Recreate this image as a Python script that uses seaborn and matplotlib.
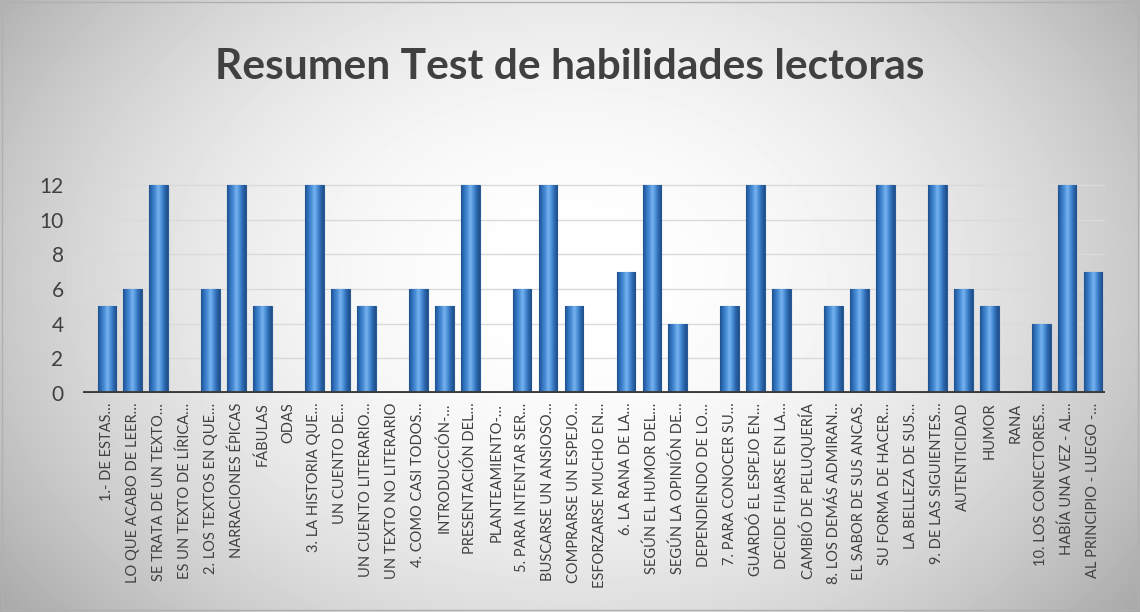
import numpy as np
import matplotlib
matplotlib.use("Agg")
import matplotlib.pyplot as plt
from matplotlib.colors import LinearSegmentedColormap
from matplotlib.patches import Rectangle
import seaborn as sns

# datos
etiquetas = [
    "1.- DE ESTAS…", "LO QUE ACABO DE LEER…", "SE TRATA DE UN TEXTO…", "ES UN TEXTO DE LÍRICA…",
    "2. LOS TEXTOS EN QUE…", "NARRACIONES ÉPICAS", "FÁBULAS", "ODAS",
    "3. LA HISTORIA QUE…", "UN CUENTO DE…", "UN CUENTO LITERARIO…", "UN TEXTO NO LITERARIO",
    "4. COMO CASI TODOS…", "INTRODUCCIÓN-…", "PRESENTACIÓN DEL…", "PLANTEAMIENTO-…",
    "5. PARA INTENTAR SER…", "BUSCARSE UN ANSIOSO…", "COMPRARSE UN ESPEJO…", "ESFORZARSE MUCHO EN…",
    "6. LA RANA DE LA…", "SEGÚN EL HUMOR DEL…", "SEGÚN LA OPINIÓN DE…", "DEPENDIENDO DE LO…",
    "7. PARA CONOCER SU…", "GUARDÓ EL ESPEJO EN…", "DECIDE FIJARSE EN LA…", "CAMBIÓ DE PELUQUERÍA",
    "8. LOS DEMÁS ADMIRAN…", "EL SABOR DE SUS ANCAS.", "SU FORMA DE HACER…", "LA BELLEZA DE SUS…",
    "9. DE LAS SIGUIENTES…", "AUTENTICIDAD", "HUMOR", "RANA",
    "10. LOS CONECTORES…", "HABÍA UNA VEZ - AL…", "AL PRINCIPIO - LUEGO -…",
]
valores = [
    5, 6, 12, 0,
    6, 12, 5, 0,
    12, 6, 5, 0,
    6, 5, 12, 0,
    6, 12, 5, 0,
    7, 12, 4, 0,
    5, 12, 6, 0,
    5, 6, 12, 0,
    12, 6, 5, 0,
    4, 12, 7,
]
y_ticks = [0, 2, 4, 6, 8, 10, 12]
titulo = "Resumen Test de habilidades lectoras"

sns.set_theme(style="white")
plt.rcParams["font.family"] = ["Lato", "DejaVu Sans"]
texto = "#404040"

fig = plt.figure(figsize=(11.4, 6.12), dpi=100)

# fondo con degradado radial
bg = fig.add_axes([0, 0, 1, 1], zorder=-10)
yy, xx = np.mgrid[0:612, 0:1140]
r = np.sqrt(((xx - 570) / 640.0) ** 2 + ((yy - 280) / 480.0) ** 2)
gris = 1.0 - 0.27 * np.clip(r, 0, 1.2) ** 2
bg.imshow(gris, cmap="gray", vmin=0, vmax=1, aspect="auto", extent=[0, 1, 0, 1])
bg.set_axis_off()
fig.patches.append(Rectangle((0.002, 0.003), 0.996, 0.994, transform=fig.transFigure,
                             fill=False, edgecolor="#b0b0b0", lw=1))

ax = fig.add_axes([83 / 1140, (612 - 393) / 612, 1022 / 1140, 216.7 / 612])
ax.patch.set_alpha(0)

sns.barplot(x=etiquetas, y=valores, color="#3b7dc6", width=0.72, ax=ax, zorder=3)

# sombreado cilindrico sobre cada barra
cmap = LinearSegmentedColormap.from_list(
    "col", ["#1e5290", "#3272bb", "#4a8fd8", "#78b4ee", "#4a8fd8", "#2c68ae", "#1f4f8a"])
grad = np.linspace(0, 1, 64).reshape(1, -1)
for p in ax.patches:
    h = p.get_height()
    if h <= 0:
        continue
    x0 = p.get_x()
    w = p.get_width()
    im = ax.imshow(grad, cmap=cmap, aspect="auto", extent=[x0, x0 + w, 0, h], zorder=4)
    im.set_clip_path(p)
    p.set_edgecolor("#2a5a96")
    p.set_linewidth(0.8)

ax.set_xlim(-0.92, 38.46)
ax.set_ylim(0, 12.5)
ax.set_aspect("auto")
ax.set_yticks(y_ticks)
ax.set_yticklabels([str(v) for v in y_ticks], fontsize=15, color=texto)
ax.tick_params(axis="y", length=0, pad=14)
ax.tick_params(axis="x", length=0, pad=7)
plt.setp(ax.get_xticklabels(), rotation=90, fontsize=10.5, color=texto, ha="center", va="top")
ax.set_xlabel("")
ax.set_ylabel("")

for v in y_ticks[1:]:
    ax.axhline(v, color="#dadada", lw=1.0, zorder=1)
ax.axhline(0, color="#3a3a3a", lw=3.5, zorder=5)
for s in ax.spines.values():
    s.set_visible(False)

fig.text(0.5, 0.89, titulo, ha="center", va="center", fontsize=30.6,
         fontweight="bold", color=texto)

fig.savefig("out.png", dpi=100)
